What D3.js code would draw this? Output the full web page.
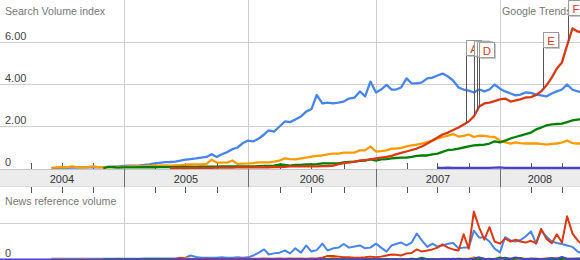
<!DOCTYPE html>
<html>
<head>
<meta charset="utf-8">
<script src="https://cdn.jsdelivr.net/npm/d3@7"></script>
<style>
  body { margin: 0; background: #fff; }
  text { font-family: "Liberation Sans", Arial, sans-serif; }
</style>
</head>
<body>
<div id="trends"></div>
<script>
// semi-monthly samples (1st and 16th), Jan 2004 .. Sep 2008
var sampleCount = 113;
var dates = d3.range(sampleCount).map(function (i) {
    return new Date(2004 + Math.floor(i / 24), Math.floor((i % 24) / 2), i % 2 ? 16 : 1);
});

var years = [2004, 2005, 2006, 2007, 2008];

// Search volume index (first sample index + values)
var searchBlueStart = 10;
var searchBlue = [
    0.02, 0.03, 0.03, 0.03, 0.04, 0.04, 0.05, 0.05, 0.06, 0.06,
    0.07, 0.08, 0.09, 0.10, 0.12, 0.13, 0.14, 0.15, 0.17, 0.20,
    0.24, 0.27, 0.30, 0.31, 0.33, 0.37, 0.42, 0.45, 0.48, 0.52,
    0.55, 0.68, 0.55, 0.68, 0.78, 0.92, 1.00, 1.20,
    1.33, 1.29, 1.43, 1.62, 1.81, 1.76, 2.00, 2.24, 2.21, 2.33,
    2.48, 2.71, 2.83, 3.50, 3.10, 3.14, 3.10, 3.14, 3.19, 3.33,
    3.38, 3.67, 3.43, 4.14, 3.62, 3.76, 3.98, 3.76, 3.76, 3.86,
    4.29, 4.05, 4.05, 4.10, 4.29, 4.33, 4.43, 4.52, 4.38, 4.19,
    3.86, 3.76, 3.71, 3.62, 3.76, 3.67, 3.76, 4.00, 3.80, 3.67,
    3.57, 3.48, 3.52, 3.62, 3.60, 3.52, 3.48, 3.43, 3.57, 3.67,
    3.76, 4.00, 3.75, 3.67, 3.62
];

var searchOrangeStart = 10;
var searchOrange = [
    0.03, 0.05, 0.06, 0.05, 0.10, 0.06, 0.05, 0.06, 0.10, 0.06,
    0.06, 0.07, 0.08, 0.08, 0.08, 0.10, 0.10, 0.12, 0.10, 0.12,
    0.13, 0.14, 0.15, 0.14, 0.15, 0.16, 0.18, 0.19, 0.20, 0.20,
    0.22, 0.42, 0.28, 0.28, 0.28, 0.38, 0.22, 0.23,
    0.24, 0.26, 0.29, 0.29, 0.29, 0.33, 0.38, 0.48, 0.45, 0.43,
    0.48, 0.52, 0.57, 0.60, 0.62, 0.67, 0.71, 0.71, 0.76, 0.76,
    0.76, 0.86, 0.86, 1.05, 0.81, 0.83, 0.86, 0.95, 0.95, 0.98,
    1.05, 1.10, 1.14, 1.19, 1.26, 1.33, 1.43, 1.50, 1.57, 1.64,
    1.52, 1.55, 1.62, 1.50, 1.57, 1.55, 1.52, 1.50, 1.33, 1.24,
    1.19, 1.24, 1.21, 1.19, 1.19, 1.19, 1.17, 1.14, 1.17, 1.19,
    1.24, 1.33, 1.21, 1.19, 1.19
];

var searchGreenStart = 20;
var searchGreen = [
    0.02, 0.08, 0.06, 0.04, 0.05, 0.05, 0.05, 0.06, 0.06, 0.06,
    0.06, 0.07, 0.07, 0.07, 0.07, 0.08, 0.08, 0.08, 0.08, 0.09,
    0.09, 0.09, 0.09, 0.10, 0.10, 0.10, 0.10, 0.10,
    0.10, 0.10, 0.11, 0.12, 0.12, 0.14, 0.19, 0.17, 0.14, 0.17,
    0.17, 0.19, 0.19, 0.21, 0.24, 0.24, 0.24, 0.24, 0.29, 0.31,
    0.33, 0.36, 0.38, 0.43, 0.38, 0.43, 0.45, 0.48, 0.50, 0.52,
    0.52, 0.55, 0.60, 0.62, 0.62, 0.67, 0.71, 0.79, 0.88, 0.90,
    0.95, 1.00, 1.05, 1.10, 1.12, 1.14, 1.19, 1.29, 1.24, 1.33,
    1.43, 1.50, 1.57, 1.64, 1.71, 1.86, 1.95, 2.05, 2.10, 2.12,
    2.14, 2.21, 2.29, 2.33, 2.35
];

var searchRedStart = 33;
var searchRed = [
    0.02, 0.02, 0.02, 0.02, 0.03, 0.03, 0.03, 0.03, 0.03, 0.04,
    0.04, 0.04, 0.04, 0.05, 0.05,
    0.05, 0.05, 0.06, 0.06, 0.06, 0.07, 0.07, 0.08, 0.10, 0.10,
    0.10, 0.10, 0.10, 0.10, 0.11, 0.12, 0.14, 0.21, 0.26, 0.29,
    0.33, 0.38, 0.40, 0.43, 0.48, 0.52, 0.55, 0.60, 0.67, 0.74,
    0.81, 0.88, 0.95, 1.05, 1.19, 1.33, 1.48, 1.62, 1.71, 1.83,
    1.95, 2.10, 2.24, 2.48, 2.95, 3.10, 3.14, 3.21, 3.29, 3.33,
    3.19, 3.24, 3.29, 3.38, 3.40, 3.50, 3.67, 3.95, 4.33, 4.76,
    5.05, 5.86, 6.67, 6.52, 6.50
];

var searchPurpleStart = 84;
var searchPurple = [
    0.03, 0.03, 0.04, 0.03, 0.03, 0.03, 0.03, 0.03, 0.03, 0.03,
    0.03, 0.04, 0.05, 0.03, 0.03, 0.03, 0.03, 0.03, 0.03, 0.03,
    0.03, 0.03, 0.03, 0.03, 0.03, 0.03, 0.03, 0.03, 0.03
];

// News reference volume (1.0 = the gridline)
var newsBlueStart = 10;
var newsBlue = [
    0.02, 0.02, 0.02, 0.02, 0.02, 0.02, 0.02, 0.02, 0.02, 0.02,
    0.02, 0.02, 0.02, 0.02, 0.02, 0.02, 0.02, 0.02, 0.03, 0.03,
    0.03, 0.03, 0.03, 0.03, 0.03, 0.04, 0.05, 0.11, 0.07, 0.05,
    0.05, 0.05, 0.05, 0.06, 0.05, 0.05, 0.06, 0.05,
    0.06, 0.11, 0.19, 0.28, 0.14, 0.17, 0.19, 0.25, 0.17, 0.31,
    0.19, 0.39, 0.22, 0.26, 0.44, 0.25, 0.31, 0.33, 0.43, 0.33,
    0.36, 0.39, 0.31, 0.33, 0.44, 0.33, 0.22, 0.39, 0.43, 0.47,
    0.39, 0.47, 0.72, 0.53, 0.35, 0.44, 0.36, 0.39, 0.44, 0.46,
    0.31, 0.33, 0.33, 0.80, 0.61, 0.61, 0.50, 0.30, 0.20, 0.62,
    0.53, 0.50, 0.54, 0.64, 0.78, 0.44, 0.80, 0.64, 0.50, 0.46,
    0.43, 0.39, 0.35, 0.22, 0.15
];

var newsOrangeStart = 10;
var newsOrange = [
    0.01, 0.01, 0.02, 0.01, 0.01, 0.01, 0.02, 0.01, 0.01, 0.01,
    0.01, 0.01, 0.01, 0.02, 0.01, 0.01, 0.01, 0.01, 0.01, 0.01,
    0.01, 0.01, 0.02, 0.01, 0.01, 0.02, 0.04, 0.02, 0.01, 0.01,
    0.01, 0.02, 0.01, 0.01, 0.01, 0.01, 0.02, 0.01, 0.01, 0.01,
    0.01, 0.01, 0.02, 0.01, 0.01, 0.01, 0.01, 0.02, 0.01, 0.01,
    0.02, 0.01, 0.01, 0.02, 0.05, 0.02, 0.01, 0.01, 0.02, 0.01,
    0.01, 0.02, 0.01, 0.01, 0.02, 0.01, 0.01, 0.02, 0.01, 0.02,
    0.01, 0.02, 0.01, 0.02, 0.01, 0.02, 0.02, 0.01, 0.02, 0.02,
    0.02, 0.06, 0.02, 0.02, 0.01, 0.02, 0.02, 0.03, 0.02, 0.02,
    0.02, 0.02, 0.02, 0.02, 0.02, 0.03, 0.02, 0.05, 0.02, 0.02,
    0.02, 0.02, 0.02
];

var newsGreenStart = 20;
var newsGreen = [
    0.01, 0.01, 0.01, 0.01, 0.01, 0.01, 0.01, 0.01, 0.01, 0.01,
    0.01, 0.01, 0.01, 0.01, 0.01, 0.01, 0.01, 0.01, 0.01, 0.01,
    0.01, 0.01, 0.01, 0.01, 0.01, 0.01, 0.01, 0.01, 0.01, 0.01,
    0.01, 0.01, 0.01, 0.01, 0.01, 0.01, 0.01, 0.01, 0.01, 0.01,
    0.01, 0.01, 0.01, 0.01, 0.01, 0.01, 0.01, 0.01, 0.01, 0.01,
    0.01, 0.01, 0.01, 0.01, 0.01, 0.01, 0.01, 0.01, 0.01, 0.02,
    0.01, 0.05, 0.01, 0.01, 0.01, 0.01, 0.01, 0.01, 0.02, 0.01,
    0.01, 0.01, 0.01, 0.01, 0.02, 0.01, 0.06, 0.01, 0.01, 0.02,
    0.04, 0.01, 0.02, 0.01, 0.01, 0.02, 0.01, 0.01, 0.02, 0.01,
    0.01, 0.01, 0.01
];

var newsRedStart = 33;
var newsRed = [
    0.01, 0.01, 0.05, 0.02, 0.01, 0.01, 0.01, 0.02, 0.01, 0.01,
    0.02, 0.01, 0.01, 0.02, 0.02,
    0.02, 0.02, 0.02, 0.03, 0.02, 0.02, 0.03, 0.02, 0.03, 0.02,
    0.03, 0.02, 0.03, 0.03, 0.05, 0.10, 0.10, 0.08, 0.06, 0.06,
    0.05, 0.05, 0.06, 0.08, 0.06, 0.08, 0.11, 0.14, 0.13, 0.11,
    0.17, 0.18, 0.28, 0.22, 0.25, 0.28, 0.33, 0.42, 0.33, 0.28,
    0.25, 0.70, 0.30, 1.33, 0.88, 0.55, 0.90, 0.50, 0.44, 0.58,
    0.50, 0.55, 0.50, 0.47, 0.52, 0.45, 0.85, 0.58, 0.45, 0.70,
    0.47, 1.20, 0.72, 0.53, 0.40
];

var newsPurpleStart = 0;
var newsPurple = [
    0, 0, 0, 0, 0, 0, 0, 0, 0, 0, 0, 0, 0, 0, 0, 0, 0, 0, 0, 0,
    0, 0, 0, 0, 0, 0, 0, 0, 0, 0, 0, 0, 0, 0, 0, 0, 0, 0, 0, 0,
    0, 0, 0, 0, 0, 0, 0, 0, 0, 0, 0, 0, 0, 0, 0, 0, 0, 0, 0, 0,
    0, 0, 0, 0, 0, 0, 0, 0, 0, 0, 0, 0, 0, 0, 0, 0, 0, 0, 0, 0,
    0, 0, 0, 0,
    0.01, 0.01, 0.01, 0.02, 0.01, 0.01, 0.01, 0.03, 0.06, 0.02,
    0.01, 0.01, 0.02, 0.05, 0.02, 0.06, 0.02, 0.01, 0.02, 0.02,
    0.01, 0.02, 0.04, 0.02, 0.07, 0.02, 0.02, 0.03, 0.02
];

// news flags on the red series
var flagLetters = ["A", "B", "C", "D", "E", "F"];
var flagDates = [new Date(2007, 8, 22), new Date(2007, 9, 16), new Date(2007, 9, 25),
                 new Date(2007, 9, 31), new Date(2008, 4, 6), new Date(2008, 6, 19)];

var searchTicks = [2, 4, 6];
var searchTickLabels = ["2.00", "4.00", "6.00"];

var colors = {
    blue: "#4684ee",
    orange: "#ff9900",
    green: "#008000",
    red: "#dc3912",
    purple: "#4942cc"
};

function toPoints(start, values) {
    return values.map(function (v, i) {
        return { date: dates[start + i], v: v };
    });
}

var width = 580,
    height = 260;

var svg = d3.select("#trends")
    .append("svg")
    .attr("width", width)
    .attr("height", height);

var x = d3.scaleTime()
    .domain([new Date(2004, 0, 1), new Date(2005, 0, 1), new Date(2006, 0, 1),
             new Date(2007, 0, 1), new Date(2008, 0, 1), new Date(2008, 7, 23)])
    .range([0, 124, 248, 376, 500, 580]);

var yTop = d3.scaleLinear().domain([0, 8]).range([168.5, 0.5]);
var yNews = d3.scaleLinear().domain([0, 2]).range([259.5, 187.5]);

var bandTop = 169,
    bandBottom = 187;

var defs = svg.append("defs");
defs.append("clipPath").attr("id", "clip-top")
    .append("rect").attr("x", 0).attr("y", 0).attr("width", width).attr("height", bandTop + 0.5);
defs.append("clipPath").attr("id", "clip-news")
    .append("rect").attr("x", 0).attr("y", bandBottom).attr("width", width).attr("height", height - bandBottom);

// horizontal gridlines
svg.append("g")
    .selectAll("line")
    .data(searchTicks)
    .enter()
    .append("line")
    .attr("x1", 0).attr("x2", width)
    .attr("y1", d => yTop(d)).attr("y2", d => yTop(d))
    .attr("stroke", "#cfcfcf");

svg.append("line")
    .attr("x1", 0).attr("x2", width)
    .attr("y1", yNews(1)).attr("y2", yNews(1))
    .attr("stroke", "#cfcfcf");

// vertical year gridlines
var yearDates = years.slice(1).map(y => new Date(y, 0, 1));
var vgrid = svg.append("g").selectAll("g").data(yearDates).enter().append("g");
vgrid.append("line")
    .attr("x1", d => Math.round(x(d)) + 0.5).attr("x2", d => Math.round(x(d)) + 0.5)
    .attr("y1", 0).attr("y2", bandTop)
    .attr("stroke", "#cfcfcf");
vgrid.append("line")
    .attr("x1", d => Math.round(x(d)) + 0.5).attr("x2", d => Math.round(x(d)) + 0.5)
    .attr("y1", bandBottom).attr("y2", height)
    .attr("stroke", "#cfcfcf");

// axis band
svg.append("rect")
    .attr("x", 0).attr("y", bandTop)
    .attr("width", width).attr("height", bandBottom - bandTop)
    .attr("fill", "#ececec");
svg.append("line")
    .attr("x1", 0).attr("x2", width).attr("y1", bandTop + 0.5).attr("y2", bandTop + 0.5)
    .attr("stroke", "#c4c4c4");
svg.append("line")
    .attr("x1", 0).attr("x2", width).attr("y1", bandBottom - 0.5).attr("y2", bandBottom - 0.5)
    .attr("stroke", "#dcdcdc");

svg.append("g")
    .selectAll("line")
    .data(yearDates)
    .enter()
    .append("line")
    .attr("x1", d => Math.round(x(d)) + 0.5).attr("x2", d => Math.round(x(d)) + 0.5)
    .attr("y1", bandTop).attr("y2", bandBottom)
    .attr("stroke", "#6f6f6f");

// quarter ticks above and below the band
var quarters = d3.timeMonth.every(3).range(new Date(2004, 0, 1), x.domain()[x.domain().length - 1])
    .filter(d => d.getMonth() !== 0);
var qt = svg.append("g").selectAll("g").data(quarters).enter().append("g");
qt.append("line")
    .attr("x1", d => Math.round(x(d)) + 0.5).attr("x2", d => Math.round(x(d)) + 0.5)
    .attr("y1", bandTop - 6).attr("y2", bandTop)
    .attr("stroke", "#555");
qt.append("line")
    .attr("x1", d => Math.round(x(d)) + 0.5).attr("x2", d => Math.round(x(d)) + 0.5)
    .attr("y1", bandBottom).attr("y2", bandBottom + 6)
    .attr("stroke", "#555");

// year labels centred on the visible part of each year
svg.append("g")
    .selectAll("text")
    .data(years)
    .enter()
    .append("text")
    .attr("x", function (d) {
        var a = x(new Date(d, 0, 1));
        var b = Math.min(width, x(new Date(d + 1, 0, 1)));
        return (a + b) / 2;
    })
    .attr("y", 183)
    .attr("text-anchor", "middle")
    .attr("font-size", "11px")
    .attr("fill", "#333")
    .text(d => d);

// series
var line = d3.line()
    .x(d => x(d.date))
    .y(d => d.yScale(d.v));

function drawSeries(group, points, yScale, color, w) {
    points.forEach(p => p.yScale = yScale);
    group.append("path")
        .datum(points)
        .attr("d", line)
        .attr("fill", "none")
        .attr("stroke", color)
        .attr("stroke-width", w)
        .attr("stroke-linejoin", "round");
}

var topG = svg.append("g").attr("clip-path", "url(#clip-top)");
drawSeries(topG, toPoints(searchBlueStart, searchBlue), yTop, colors.blue, 2.3);
drawSeries(topG, toPoints(searchOrangeStart, searchOrange), yTop, colors.orange, 2.3);
drawSeries(topG, toPoints(searchGreenStart, searchGreen), yTop, colors.green, 2.3);
var redPoints = toPoints(searchRedStart, searchRed);
drawSeries(topG, redPoints, yTop, colors.red, 2.3);
drawSeries(topG, toPoints(searchPurpleStart, searchPurple), yTop, colors.purple, 2.3);

var newsG = svg.append("g").attr("clip-path", "url(#clip-news)");
drawSeries(newsG, toPoints(newsBlueStart, newsBlue), yNews, colors.blue, 2);
drawSeries(newsG, toPoints(newsOrangeStart, newsOrange), yNews, colors.orange, 2);
drawSeries(newsG, toPoints(newsGreenStart, newsGreen), yNews, colors.green, 2);
drawSeries(newsG, toPoints(newsRedStart, newsRed), yNews, colors.red, 2);
drawSeries(newsG, toPoints(newsPurpleStart, newsPurple), yNews, colors.purple, 2);

// labels
svg.append("text")
    .attr("x", 5).attr("y", 15)
    .attr("font-size", "10.6px").attr("fill", "#777")
    .text("Search Volume index");

svg.append("g")
    .selectAll("text")
    .data(searchTicks)
    .enter()
    .append("text")
    .attr("x", 5)
    .attr("y", d => yTop(d) - 3)
    .attr("font-size", "11px")
    .attr("fill", "#444")
    .text((d, i) => searchTickLabels[i]);

svg.append("text")
    .attr("x", 5).attr("y", yTop(0) - 3)
    .attr("font-size", "11px").attr("fill", "#444")
    .text("0");

svg.append("text")
    .attr("x", 5).attr("y", 205)
    .attr("font-size", "10.6px").attr("fill", "#777")
    .text("News reference volume");

svg.append("text")
    .attr("x", 5).attr("y", yNews(0) - 3)
    .attr("font-size", "11px").attr("fill", "#444")
    .text("0");

svg.append("text")
    .attr("x", 502).attr("y", 15)
    .attr("font-size", "10.6px").attr("fill", "#777")
    .text("Google Trends");

// flags
var bisect = d3.bisector(d => d.date).left;
function redAt(date) {
    var i = bisect(redPoints, date);
    var a = redPoints[i - 1], b = redPoints[i];
    var t = (date - a.date) / (b.date - a.date);
    return a.v + t * (b.v - a.v);
}

var boxSize = 15;
var prev = null;
var flags = flagLetters.map(function (letter, i) {
    var px = Math.round(x(flagDates[i])) + 0.5;
    var py = yTop(redAt(flagDates[i]));
    var top = Math.max(0.5, Math.min(40.5, Math.round(py - 57) + 0.5));
    if (prev && px - prev.px < boxSize) top = prev.top + 0.7;
    prev = { px: px, py: py, top: top, letter: letter };
    return prev;
});

var flag = svg.append("g")
    .selectAll("g")
    .data(flags)
    .enter()
    .append("g");

flag.append("line")
    .attr("x1", d => d.px).attr("x2", d => d.px)
    .attr("y1", d => d.top).attr("y2", d => d.py)
    .attr("stroke", "#555");

flag.append("rect")
    .attr("x", d => d.px + 1.5).attr("y", d => d.top + 1.5)
    .attr("width", boxSize).attr("height", boxSize)
    .attr("fill", "#c8c8c8");

flag.append("rect")
    .attr("x", d => d.px).attr("y", d => d.top)
    .attr("width", boxSize).attr("height", boxSize)
    .attr("fill", "#fff")
    .attr("stroke", "#9a9a9a");

flag.append("text")
    .attr("x", d => d.px + boxSize / 2)
    .attr("y", d => d.top + 12)
    .attr("text-anchor", "middle")
    .attr("font-size", "11.5px")
    .attr("fill", "#dc3912")
    .text(d => d.letter);
</script>
</body>
</html>
